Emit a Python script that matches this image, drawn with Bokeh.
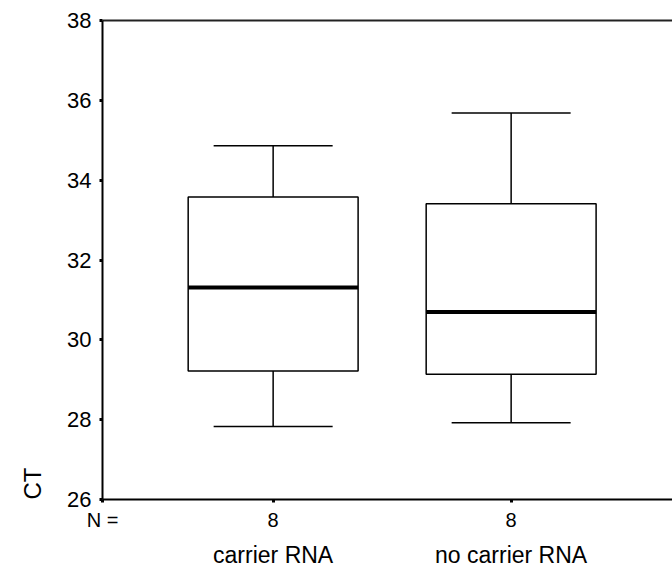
from bokeh.plotting import figure
from bokeh.models import Range1d, LinearAxis, FixedTicker, Title, ColumnDataSource
from bokeh.embed import file_html
from bokeh.resources import INLINE

# ---- data ----
groups = ["carrier RNA", "no carrier RNA"]
group_pos = [1, 2]
n_counts = [8, 8]
whisker_low = [27.83, 27.92]
q1 = [29.22, 29.14]
median = [31.31, 30.70]
q3 = [33.58, 33.41]
whisker_high = [34.86, 35.68]
y_ticks = [26, 28, 30, 32, 34, 36, 38]

FONT = "Liberation Sans"
box_half = 0.357
cap_half = 0.25
X_START, X_END = 0.283, 2.678

src = ColumnDataSource(dict(
    x=group_pos,
    left=[x - box_half for x in group_pos],
    right=[x + box_half for x in group_pos],
    cap_l=[x - cap_half for x in group_pos],
    cap_r=[x + cap_half for x in group_pos],
    lo=whisker_low, q1=q1, med=median, q3=q3, hi=whisker_high,
))

p = figure(width=672, height=570,
           x_range=Range1d(X_START, X_END), y_range=Range1d(26, 38),
           output_backend="svg", toolbar_location=None,
           x_axis_location=None, y_axis_location=None,
           min_border_left=102, min_border_right=0,
           min_border_top=20, min_border_bottom=70)
p.grid.visible = False
p.outline_line_color = None
p.background_fill_color = "white"
p.border_fill_color = "white"

# whiskers
p.segment(x0="x", y0="q3", x1="x", y1="hi", source=src, line_color="black", line_width=1.5)
p.segment(x0="x", y0="q1", x1="x", y1="lo", source=src, line_color="black", line_width=1.5)
p.segment(x0="cap_l", y0="hi", x1="cap_r", y1="hi", source=src, line_color="black", line_width=1.5)
p.segment(x0="cap_l", y0="lo", x1="cap_r", y1="lo", source=src, line_color="black", line_width=1.5)
# boxes
p.quad(left="left", right="right", bottom="q1", top="q3", source=src,
       fill_color="white", line_color="black", line_width=1.5)
# medians
p.segment(x0="left", y0="med", x1="right", y1="med", source=src, line_color="black", line_width=4)

yaxis = LinearAxis(ticker=FixedTicker(ticks=y_ticks))
yaxis.axis_line_width = 2
yaxis.axis_line_color = "black"
yaxis.major_tick_line_width = 3
yaxis.major_tick_out = 3
yaxis.major_tick_in = 0
yaxis.minor_tick_line_color = None
yaxis.major_label_text_font = FONT
yaxis.major_label_text_font_size = "22px"
yaxis.major_label_text_color = "black"
yaxis.major_label_standoff = 8
p.add_layout(yaxis, "left")

# y axis title (placed at bottom, like SPSS)
ct = Title(text="CT", align="left", vertical_align="top", text_font_size="24px",
           text_font_style="normal", text_font=FONT, text_color="black", standoff=34)
p.add_layout(ct, "left")

# top border line
top = LinearAxis(ticker=FixedTicker(ticks=[]))
top.axis_line_width = 2
top.axis_line_color = "#222222"
top.major_tick_line_color = None
top.minor_tick_line_color = None
top.major_label_text_font_size = "0px"
p.add_layout(top, "above")

# N row
n_overrides = {g: str(n) for g, n in zip(group_pos, n_counts)}
n_overrides[X_START] = "N ="
xaxis = LinearAxis(ticker=FixedTicker(ticks=[X_START] + group_pos),
                   major_label_overrides=n_overrides)
xaxis.axis_line_width = 2
xaxis.axis_line_color = "black"
xaxis.major_tick_line_width = 3
xaxis.major_tick_out = 3
xaxis.major_tick_in = 0
xaxis.minor_tick_line_color = None
xaxis.major_label_text_font = FONT
xaxis.major_label_text_font_size = "20px"
xaxis.major_label_text_color = "black"
xaxis.major_label_standoff = 6
p.add_layout(xaxis, "below")

# category names row
caxis = LinearAxis(ticker=FixedTicker(ticks=group_pos),
                   major_label_overrides={g: name for g, name in zip(group_pos, groups)})
caxis.axis_line_color = None
caxis.major_tick_line_color = None
caxis.minor_tick_line_color = None
caxis.major_label_text_font = FONT
caxis.major_label_text_font_size = "23px"
caxis.major_label_text_color = "black"
caxis.major_label_standoff = 2
p.add_layout(caxis, "below")

open("out.html", "w").write(file_html(p, INLINE))
